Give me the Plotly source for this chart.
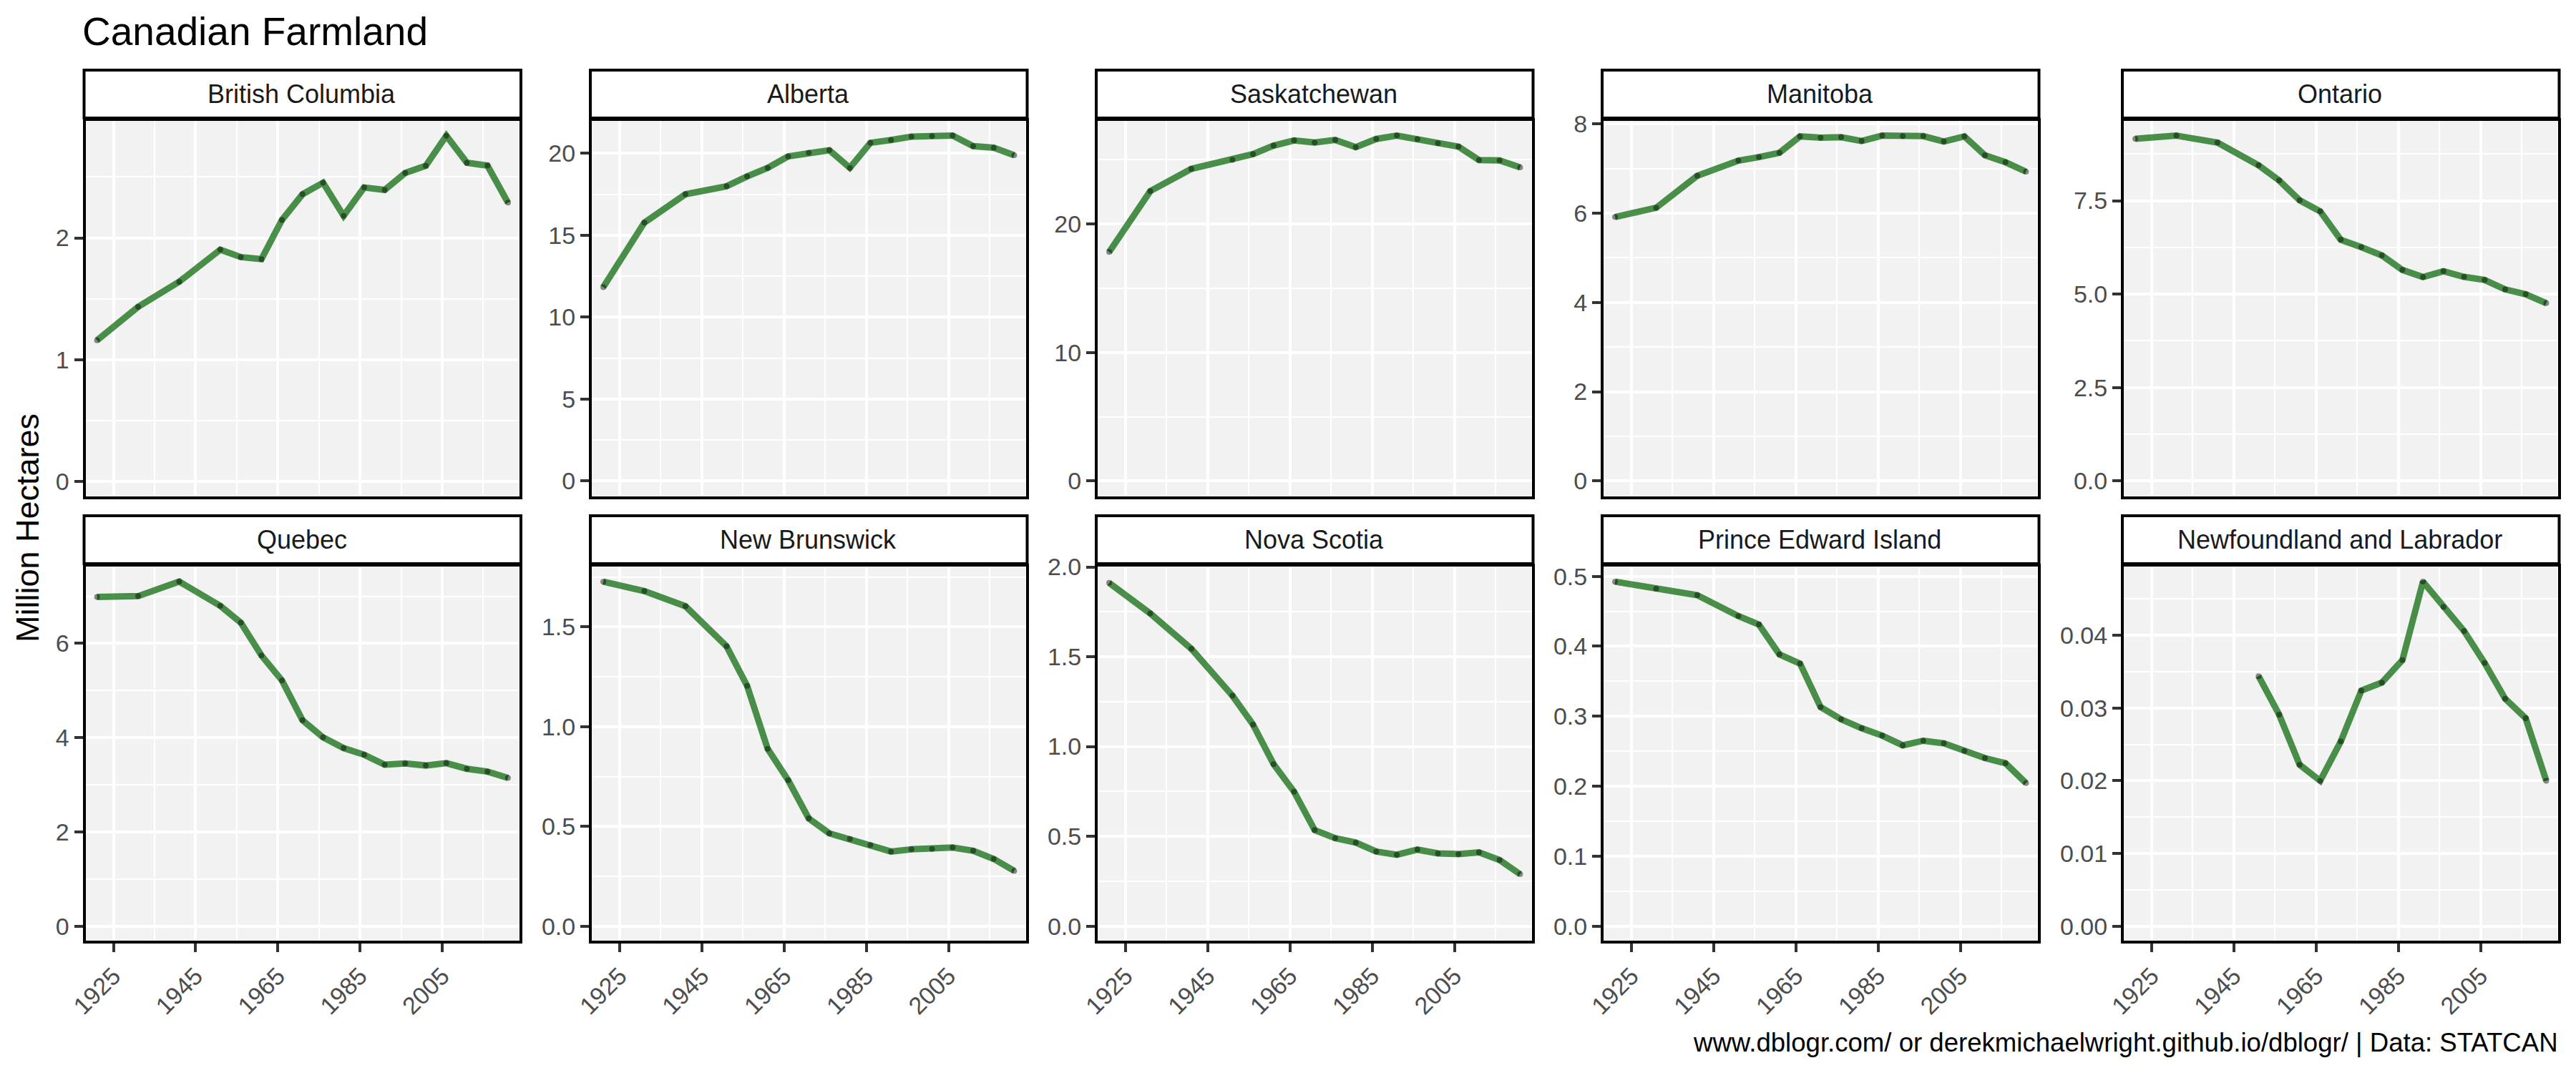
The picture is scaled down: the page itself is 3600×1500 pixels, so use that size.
import plotly.graph_objects as go

years = [1921, 1931, 1941, 1951, 1956, 1961, 1966, 1971, 1976, 1981, 1986, 1991, 1996, 2001, 2006, 2011, 2016, 2021]
years_nl = years[3:]

british_columbia = [1.158, 1.433, 1.639, 1.903, 1.842, 1.825, 2.147, 2.358, 2.453, 2.181, 2.414, 2.394, 2.533, 2.592, 2.839, 2.617, 2.594, 2.289]
alberta = [11.83, 15.77, 17.50, 17.99, 18.59, 19.11, 19.81, 20.03, 20.19, 19.11, 20.64, 20.81, 21.02, 21.05, 21.08, 20.44, 20.34, 19.88]
saskatchewan = [17.81, 22.55, 24.28, 24.98, 25.43, 26.09, 26.49, 26.33, 26.53, 25.97, 26.61, 26.87, 26.59, 26.27, 26.01, 24.96, 24.94, 24.40]
manitoba = [5.914, 6.120, 6.837, 7.175, 7.255, 7.352, 7.719, 7.691, 7.702, 7.616, 7.736, 7.725, 7.725, 7.605, 7.719, 7.295, 7.140, 6.928]
ontario = [9.158, 9.240, 9.055, 8.446, 8.042, 7.509, 7.214, 6.455, 6.256, 6.037, 5.647, 5.455, 5.613, 5.462, 5.380, 5.127, 4.997, 4.757]
quebec = [6.987, 7.003, 7.312, 6.797, 6.439, 5.745, 5.214, 4.369, 4.005, 3.778, 3.637, 3.425, 3.453, 3.409, 3.458, 3.339, 3.279, 3.144]
new_brunswick = [1.727, 1.680, 1.604, 1.403, 1.205, 0.889, 0.731, 0.540, 0.465, 0.437, 0.407, 0.374, 0.385, 0.387, 0.394, 0.378, 0.337, 0.277]
nova_scotia = [1.911, 1.741, 1.544, 1.283, 1.122, 0.902, 0.748, 0.535, 0.490, 0.465, 0.415, 0.397, 0.426, 0.405, 0.401, 0.411, 0.368, 0.289]
pei = [0.4923, 0.4821, 0.4730, 0.4431, 0.4310, 0.3883, 0.3752, 0.3131, 0.2956, 0.2828, 0.2723, 0.2584, 0.2650, 0.2613, 0.2504, 0.2401, 0.2328, 0.2044]
newfoundland = [0.0344, 0.0291, 0.0222, 0.0200, 0.0254, 0.0324, 0.0335, 0.0366, 0.0474, 0.0439, 0.0406, 0.0362, 0.0313, 0.0286, 0.0200]

names = ["British Columbia", "Alberta", "Saskatchewan", "Manitoba", "Ontario",
         "Quebec", "New Brunswick", "Nova Scotia", "Prince Edward Island", "Newfoundland and Labrador"]
series = [british_columbia, alberta, saskatchewan, manitoba, ontario,
          quebec, new_brunswick, nova_scotia, pei, newfoundland]
xs = [years] * 9 + [years_nl]

y_ranges = [(-0.122, 2.964), (-0.92, 22.0), (-1.174, 28.04), (-0.338, 8.074), (-0.404, 9.644),
            (-0.309, 7.631), (-0.073, 1.803), (-0.081, 2.002), (-0.0208, 0.5139), (-0.0020, 0.04947)]
y_dticks = [1, 5, 10, 2, 2.5, 2, 0.5, 0.5, 0.1, 0.01]
y_formats = ["d", "d", "d", "d", ".1f", "d", ".1f", ".1f", ".1f", ".2f"]
x_range = (1918.2, 2023.8)

W, H = 3600, 1500
col_left = [119.5, 827, 1534, 2241, 2968]
panel_w = 606.5
row_top = [168.5, 792]
row_bot = [693.5, 1315]
strip_top = [98, 721]
strip_bot = [165, 788]

LINE = "rgba(0,100,0,0.7)"
POINT = "rgba(0,0,0,0.45)"
PANEL = "#F2F2F2"

fig = go.Figure()
shapes = []
annotations = []
layout = {}

for i, name in enumerate(names):
    r, c = divmod(i, 5)
    sfx = "" if i == 0 else str(i + 1)
    xa, ya = "x" + sfx, "y" + sfx
    left = col_left[c]
    fig.add_trace(go.Scatter(x=xs[i], y=series[i], mode="lines", xaxis=xa, yaxis=ya,
                             line=dict(color=LINE, width=9),
                             showlegend=False, name=name))
    fig.add_trace(go.Scatter(x=xs[i], y=series[i], mode="markers", xaxis=xa, yaxis=ya,
                             marker=dict(size=8, color=POINT, line=dict(width=0)),
                             showlegend=False, hoverinfo="skip"))
    layout["xaxis" + sfx] = dict(
        domain=[left / W, (left + panel_w) / W], anchor=ya, range=list(x_range), automargin=False,
        tick0=1925, dtick=20, showgrid=True, gridcolor="white", gridwidth=3.5,
        minor=dict(tick0=1925, dtick=10, showgrid=True, gridcolor="white", gridwidth=1.8, ticks=""),
        zeroline=False, showline=True, linecolor="black", linewidth=4, mirror=True,
        ticks="outside" if r == 1 else "", ticklen=12, tickwidth=3.5, tickcolor="#333333",
        showticklabels=r == 1, tickangle=-45, tickformat="d",
        tickfont=dict(family="Liberation Sans", size=34, color="#4D4D4D"))
    layout["yaxis" + sfx] = dict(
        domain=[1 - row_bot[r] / H, 1 - row_top[r] / H], anchor=xa, range=list(y_ranges[i]), automargin=False,
        tick0=0, dtick=y_dticks[i], tickformat=y_formats[i],
        showgrid=True, gridcolor="white", gridwidth=3.5,
        minor=dict(tick0=0, dtick=y_dticks[i] / 2, showgrid=True, gridcolor="white", gridwidth=1.8, ticks=""),
        zeroline=False, showline=True, linecolor="black", linewidth=4, mirror=True,
        ticks="outside", ticklen=12, tickwidth=3.5, tickcolor="#333333",
        tickfont=dict(family="Liberation Sans", size=34, color="#4D4D4D"))
    shapes.append(dict(type="rect", xref="paper", yref="paper", layer="above",
                       x0=(left - 2) / W, x1=(left + panel_w + 2) / W,
                       y0=1 - strip_bot[r] / H, y1=1 - strip_top[r] / H,
                       fillcolor="white", line=dict(color="black", width=4)))
    annotations.append(dict(text=name, xref="paper", yref="paper", showarrow=False,
                            x=(left + panel_w / 2 - 1) / W,
                            y=1 - (strip_top[r] + strip_bot[r]) / 2 / H,
                            xanchor="center", yanchor="middle",
                            font=dict(family="Liberation Sans", size=36, color="#1A1A1A")))

annotations.append(dict(text="Million Hectares", xref="paper", yref="paper", showarrow=False,
                        x=38 / W, y=1 - 738 / H, textangle=-90, xanchor="center", yanchor="middle",
                        font=dict(family="Liberation Sans", size=45, color="black")))
annotations.append(dict(text="www.dblogr.com/ or derekmichaelwright.github.io/dblogr/ | Data: STATCAN",
                        xref="paper", yref="paper", showarrow=False,
                        x=3577 / W, y=1 - 1457 / H, xanchor="right", yanchor="middle",
                        font=dict(family="Liberation Sans", size=36.6, color="black")))

fig.update_layout(
    width=W, height=H, margin=dict(l=0, r=0, t=0, b=0, autoexpand=False),
    paper_bgcolor="white", plot_bgcolor=PANEL, showlegend=False,
    title=dict(text="Canadian Farmland", xref="paper", yref="paper", x=115 / W, y=1 - 44 / H,
               xanchor="left", yanchor="middle", automargin=False,
               font=dict(family="Liberation Sans", size=55, color="black")),
    shapes=shapes, annotations=annotations, **layout)

fig.write_html("out.html", config={"displayModeBar": False},
               post_script="document.body.style.margin='0';document.documentElement.style.overflow='hidden';")
